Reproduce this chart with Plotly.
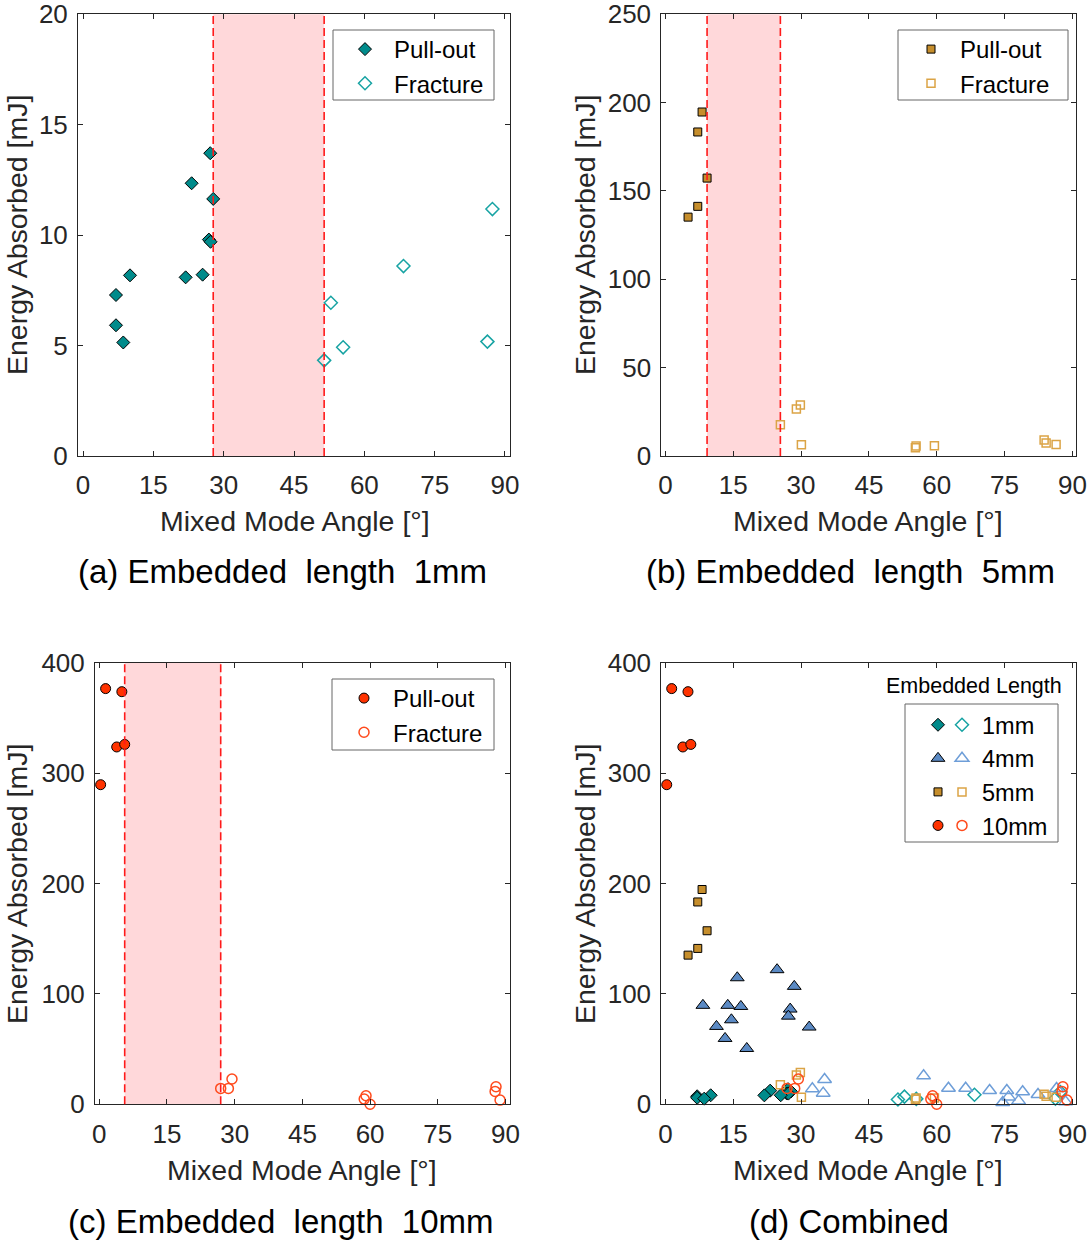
import plotly.graph_objects as go

FONT = "Liberation Sans, Arial, Helvetica, sans-serif"
W, H = 1088, 1242

# ---------------- data ----------------
# (a) embedded length 1 mm
a_pull_x = [27.13, 23.17, 27.77, 26.85, 27.2, 10.02, 21.89, 25.51, 7.03, 7.03, 8.59]
a_pull_y = [13.71, 12.35, 11.64, 9.80, 9.70, 8.18, 8.09, 8.21, 7.29, 5.92, 5.14]
a_frac_x = [87.32, 68.35, 52.86, 55.48, 51.43, 86.25]
a_frac_y = [11.18, 8.60, 6.94, 4.92, 4.33, 5.18]

# (b) embedded length 5 mm
b_pull_x = [8.12, 7.16, 9.22, 7.16, 5.02]
b_pull_y = [194.7, 183.4, 157.3, 141.3, 135.2]
b_frac_x = [29.85, 28.97, 25.43, 30.08, 55.44, 55.29, 59.49, 83.75, 84.19, 86.4]
b_frac_y = [28.9, 26.6, 17.7, 6.3, 5.6, 4.6, 5.8, 9.0, 7.3, 6.5]

# (c) embedded length 10 mm
c_pull_x = [1.4, 5.0, 3.86, 5.63, 0.3]
c_pull_y = [376.8, 374.0, 323.9, 326.2, 289.7]
c_frac_x = [26.9, 28.6, 29.4, 58.7, 59.1, 60.0, 87.9, 87.7, 88.8]
c_frac_y = [14.4, 14.4, 22.9, 4.7, 7.7, 0.0, 15.9, 11.7, 3.8]

# embedded length 4 mm (only in combined plot)
e4_pull_x = [24.7, 15.9, 28.5, 8.3, 13.8, 16.7, 27.6, 27.2, 14.6, 11.3, 31.8, 13.2, 18.0]
e4_pull_y = [122.0, 114.7, 106.9, 89.7, 89.7, 88.7, 86.3, 79.9, 76.6, 70.6, 70.0, 59.7, 50.6]
e4_frac_x = [35.2, 32.5, 34.9, 57.1, 62.6, 66.4, 71.7, 75.5, 75.9, 74.6, 79.0, 78.1, 82.4, 86.5, 88.5]
e4_frac_y = [22.5, 14.0, 10.1, 25.8, 14.6, 14.6, 12.5, 12.5, 6.7, 1.6, 11.3, 3.1, 8.9, 14.3, 2.2]

legend_labels = ["Pull-out", "Fracture"]
length_labels = ["1mm", "4mm", "5mm", "10mm"]
captions = ["(a) Embedded\u00a0 length\u00a0 1mm", "(b) Embedded\u00a0 length\u00a0 5mm",
            "(c) Embedded\u00a0 length\u00a0 10mm", "(d) Combined"]
x_title = "Mixed Mode Angle [°]"
y_title = "Energy Absorbed [mJ]"

# ---------------- styles ----------------
TEAL, TEAL_O = "#008B8B", "#17A3A3"
BLUE, BLUE_O = "#5B8AC4", "#6E9ED8"
GOLD, GOLD_O = "#C68E2C", "#DBA446"
RED, RED_O = "#FF3300", "#FF4A1C"
AX = "#262626"

sty = {
    "1": dict(sym="diamond", size=10, fc=TEAL, oc=TEAL_O),
    "4": dict(sym="triangle-up", size=12, fc=BLUE, oc=BLUE_O),
    "5": dict(sym="square", size=8, fc=GOLD, oc=GOLD_O),
    "10": dict(sym="circle", size=10, fc=RED, oc=RED_O),
}


def P(x, y):
    return x / W, 1 - y / H


fig = go.Figure()


def add_pair(k, px_, py_, fx_, fy_, xa, ya, leg_f, leg_o, name_f, name_o, show=True):
    s = sty[k]
    fig.add_trace(go.Scatter(
        x=px_, y=py_, mode="markers", name=name_f, xaxis=xa, yaxis=ya,
        legend=leg_f, showlegend=show, cliponaxis=False,
        marker=dict(symbol=s["sym"], size=s["size"], color=s["fc"],
                    line=dict(color="black", width=1))))
    fig.add_trace(go.Scatter(
        x=fx_, y=fy_, mode="markers", name=name_o, xaxis=xa, yaxis=ya,
        legend=leg_o, showlegend=show, cliponaxis=False,
        marker=dict(symbol=s["sym"] + "-open", size=s["size"], color=s["oc"],
                    line=dict(color=s["oc"], width=1.5))))


add_pair("1", a_pull_x, a_pull_y, a_frac_x, a_frac_y, "x", "y", "legend", "legend", *legend_labels)
add_pair("5", b_pull_x, b_pull_y, b_frac_x, b_frac_y, "x2", "y2", "legend4", "legend4", *legend_labels)
add_pair("10", c_pull_x, c_pull_y, c_frac_x, c_frac_y, "x3", "y3", "legend5", "legend5", *legend_labels)
# combined
add_pair("1", a_pull_x, a_pull_y, a_frac_x, a_frac_y, "x4", "y4", "legend2", "legend3", " ", length_labels[0])
add_pair("4", e4_pull_x, e4_pull_y, e4_frac_x, e4_frac_y, "x4", "y4", "legend2", "legend3", " ", length_labels[1])
add_pair("5", b_pull_x, b_pull_y, b_frac_x, b_frac_y, "x4", "y4", "legend2", "legend3", " ", length_labels[2])
add_pair("10", c_pull_x, c_pull_y, c_frac_x, c_frac_y, "x4", "y4", "legend2", "legend3", " ", length_labels[3])

# ---------------- axes ----------------
boxes = {  # left, top, right, bottom in px
    1: (78, 14.3, 510, 456),
    2: (661.3, 14.3, 1076, 456),
    3: (95, 663, 510, 1104.3),
    4: (661.3, 663, 1076, 1104.3),
}
xranges = {1: [-1.07, 91.07], 2: [-0.9, 90.8], 3: [-0.95, 91.0], 4: [-0.9, 90.8]}
yranges = {1: [0, 20], 2: [0, 250], 3: [0, 400], 4: [0, 400]}
ydt = {1: 5, 2: 50, 3: 100, 4: 100}

common = dict(showline=True, mirror="ticks", linecolor=AX, linewidth=1, ticks="inside",
              ticklen=5, tickwidth=1, tickcolor=AX, showgrid=False, zeroline=False,
              automargin=False, ticklabeloverflow="allow",
              tickfont=dict(family=FONT, size=26, color=AX))
for i, (l, t, r, b) in boxes.items():
    sx = "" if i == 1 else str(i)
    fig.layout["xaxis" + sx] = dict(common, domain=[l / W, r / W], range=xranges[i],
                                    anchor="y" + sx, tick0=0, dtick=15, ticklabelstandoff=6)
    fig.layout["yaxis" + sx] = dict(common, domain=[1 - b / H, 1 - t / H], range=yranges[i],
                                    anchor="x" + sx, tick0=0, dtick=ydt[i], ticklabelstandoff=4)

# ---------------- transition region shapes ----------------
shapes = []
for i, (pxs, fxs) in {1: (a_pull_x, a_frac_x), 2: (b_pull_x, b_frac_x), 3: (c_pull_x, c_frac_x)}.items():
    sx = "" if i == 1 else str(i)
    x0, x1 = max(pxs), min(fxs)
    shapes.append(dict(type="rect", xref="x" + sx, yref="y" + sx + " domain", x0=x0, x1=x1, y0=0, y1=1,
                       fillcolor="#FFD8DA", line=dict(width=0), layer="below"))
    for xv in (x0, x1):
        shapes.append(dict(type="line", xref="x" + sx, yref="y" + sx + " domain", x0=xv, x1=xv, y0=0, y1=1,
                           line=dict(color="#FF1A1A", width=1.6, dash="8px,4px"), layer="above"))
# legend boxes (left, top, right, bottom in px)
for (l, t, r, b) in [(333, 30, 494, 100), (898, 30, 1068, 100), (332, 679, 494, 750), (905, 704, 1058, 842)]:
    x0, y0 = P(l, b)
    x1, y1 = P(r, t)
    shapes.append(dict(type="rect", xref="paper", yref="paper", x0=x0, x1=x1, y0=y0, y1=y1,
                       line=dict(color="#666666", width=1), fillcolor="white", layer="below"))
fig.layout.shapes = shapes

# ---------------- annotations ----------------
ann = []
def txt(x, y, s, size, color=AX, angle=0):
    xx, yy = P(x, y)
    ann.append(dict(x=xx, y=yy, xref="paper", yref="paper", text=s, showarrow=False,
                    xanchor="center", yanchor="middle", textangle=angle,
                    font=dict(family=FONT, size=size, color=color)))

for (xc, yc) in [(295, 521), (868, 521), (302, 1170), (868, 1170)]:
    txt(xc, yc, x_title, 28.5)
for (xc, yc) in [(17, 235), (585, 235), (17, 884), (585, 884)]:
    txt(xc, yc, y_title, 28.5, angle=-90)
for s, (xc, yc) in zip(captions, [(282, 571), (850, 571), (281, 1221), (849, 1221)]):
    txt(xc, yc, s, 33, color="black")
txt(973.5, 686, "Embedded Length", 21.5, color="black")
fig.layout.annotations = ann

# ---------------- legends ----------------
def leg(x, y, size, iw):
    xx, yy = P(x, y)
    return dict(x=xx, y=yy, xanchor="left", yanchor="top",
                font=dict(family=FONT, size=size, color="black"),
                bgcolor="rgba(0,0,0,0)", borderwidth=0, itemwidth=iw, tracegroupgap=0)

fig.layout.legend = leg(336, 27, 24, 48)
fig.layout.legend4 = leg(902, 27, 24, 48)
fig.layout.legend5 = leg(335, 676, 24, 48)
fig.layout.legend2 = leg(918, 703, 23.5, 30)
fig.layout.legend3 = leg(942, 703, 23.5, 30)

fig.update_layout(width=W, height=H, margin=dict(l=0, r=0, t=0, b=0, autoexpand=False),
                  paper_bgcolor="white", plot_bgcolor="white",
                  font=dict(family=FONT, color=AX))
fig.write_html("out.html", config={"displayModeBar": False},
               post_script="document.body.style.margin='0';document.body.style.overflow='hidden';")
